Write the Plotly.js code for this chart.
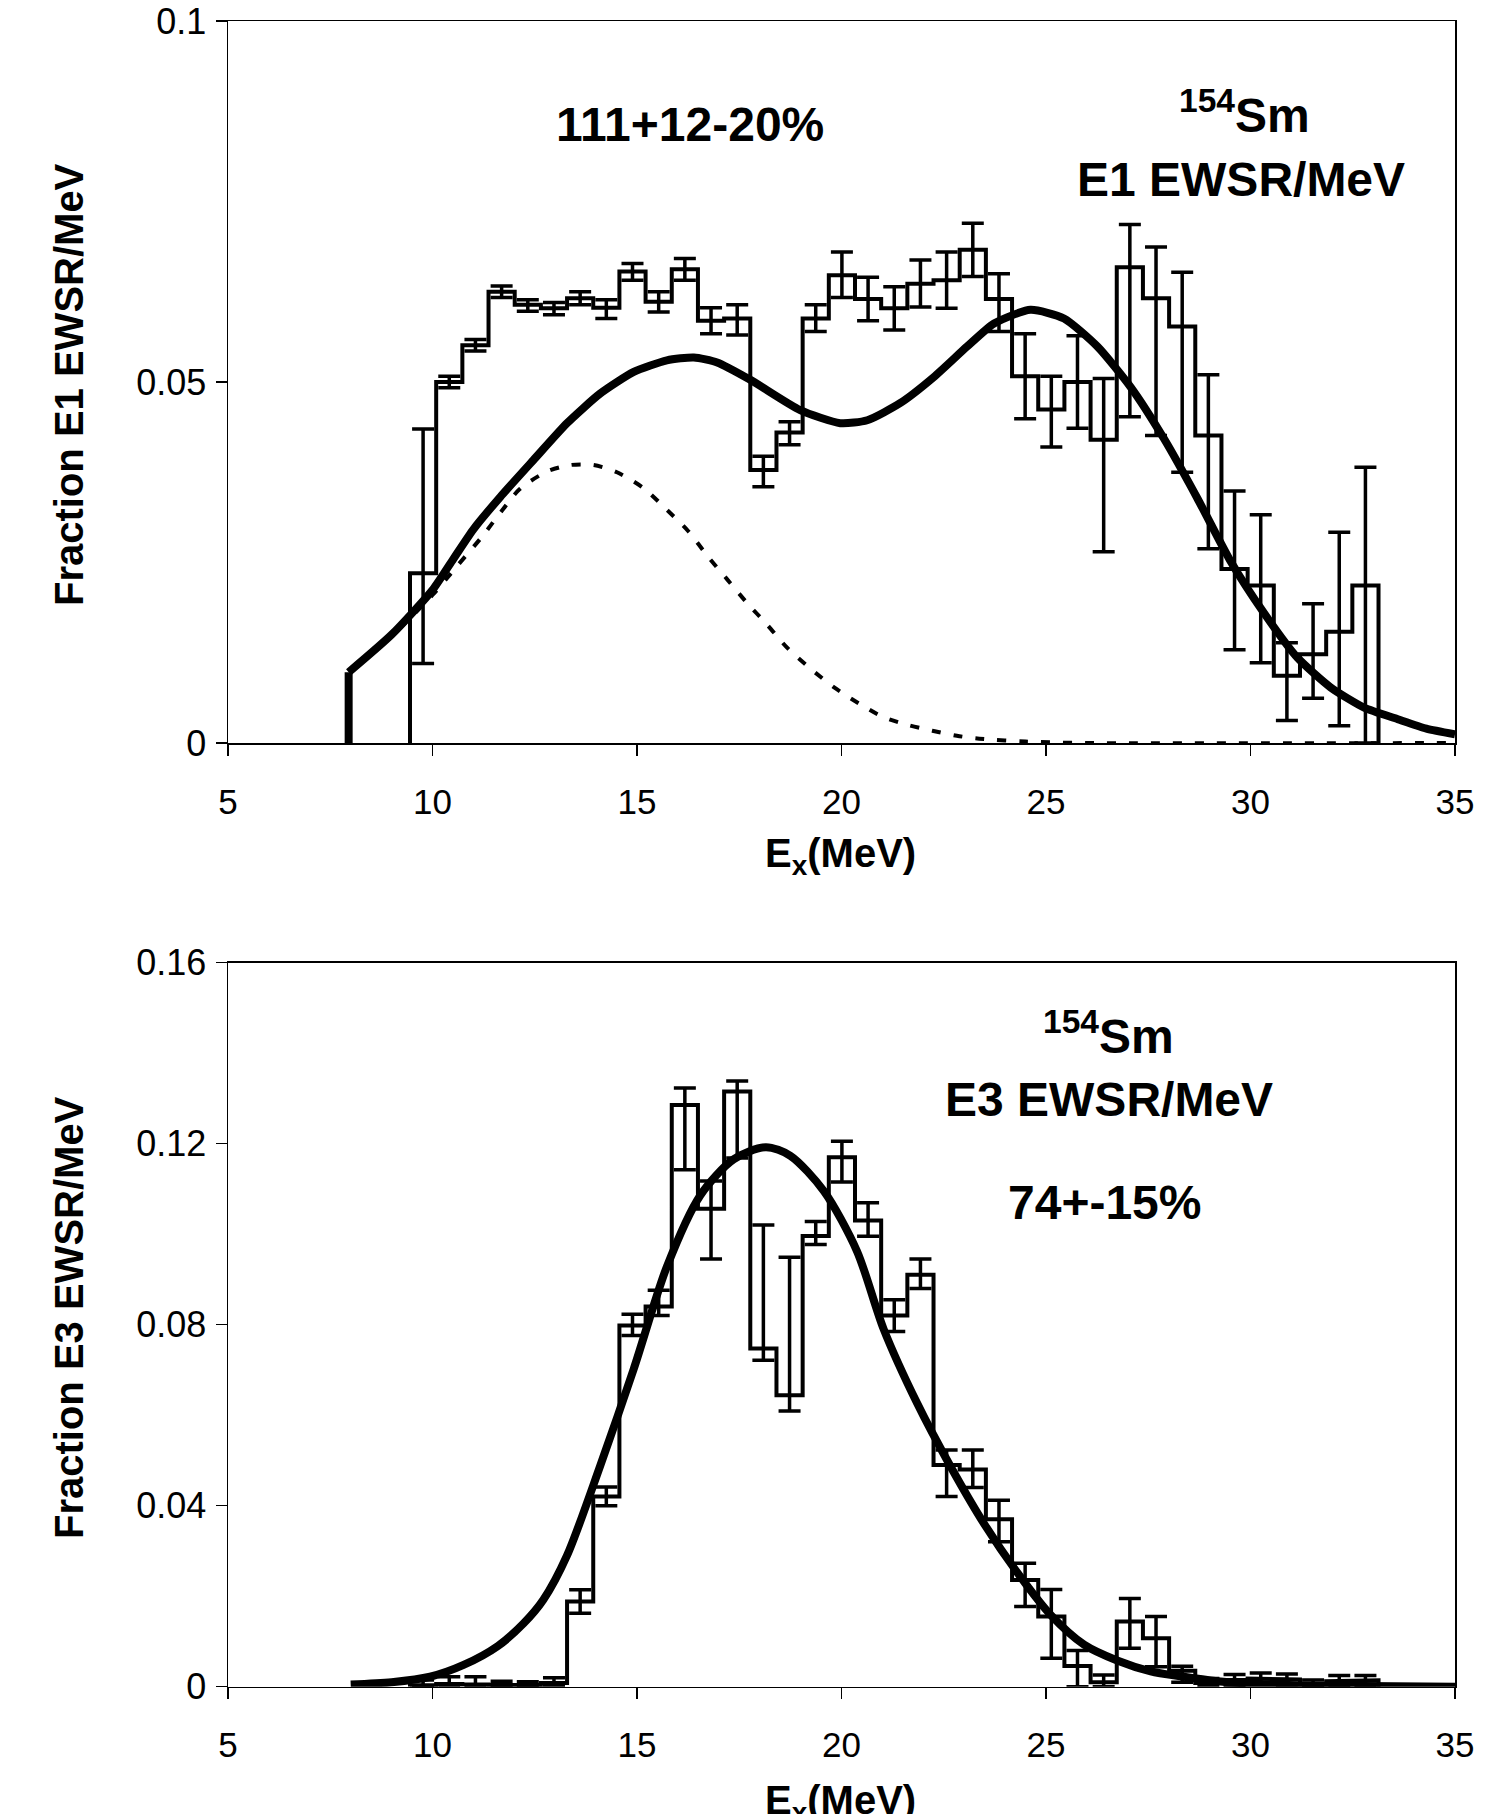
<!DOCTYPE html>
<html><head><meta charset="utf-8">
<script src="https://cdn.plot.ly/plotly-3.0.1.min.js"></script>
<style>html,body{margin:0;padding:0;background:#fff}#chart{width:1512px;height:1814px}</style>
</head><body><div id="chart"></div>
<script>
// ---------- data ----------
const binCenters = [9.77, 10.41, 11.05, 11.69, 12.33, 12.97, 13.61, 14.25, 14.89, 15.53, 16.17, 16.81, 17.45, 18.09, 18.73, 19.37, 20.01, 20.65, 21.29, 21.93, 22.57, 23.21, 23.85, 24.49, 25.13, 25.77, 26.41, 27.05, 27.69, 28.33, 28.97, 29.61, 30.25, 30.89, 31.53, 32.17, 32.81];
const binWidth = 0.64;

const e1Value = [0.0235, 0.0500, 0.0551, 0.0625, 0.0607, 0.0602, 0.0616, 0.0603, 0.0653, 0.0611, 0.0656, 0.0585, 0.0588, 0.0378, 0.0430, 0.0588, 0.0648, 0.0615, 0.0602, 0.0636, 0.0641, 0.0683, 0.0615, 0.0508, 0.0462, 0.0500, 0.0420, 0.0659, 0.0616, 0.0577, 0.0426, 0.0241, 0.0218, 0.0093, 0.0123, 0.0154, 0.0218];
const e1High  = [0.0435, 0.0508, 0.0559, 0.0633, 0.0614, 0.0610, 0.0625, 0.0614, 0.0664, 0.0625, 0.0671, 0.0603, 0.0607, 0.0397, 0.0445, 0.0607, 0.0680, 0.0645, 0.0632, 0.0669, 0.0680, 0.0720, 0.0650, 0.0567, 0.0508, 0.0564, 0.0505, 0.0718, 0.0687, 0.0652, 0.0510, 0.0349, 0.0316, 0.0139, 0.0193, 0.0292, 0.0382];
const e1Low   = [0.0110, 0.0492, 0.0543, 0.0617, 0.0598, 0.0593, 0.0607, 0.0588, 0.0641, 0.0597, 0.0641, 0.0567, 0.0565, 0.0355, 0.0413, 0.0570, 0.0617, 0.0585, 0.0572, 0.0604, 0.0602, 0.0646, 0.0570, 0.0449, 0.0410, 0.0436, 0.0265, 0.0452, 0.0426, 0.0375, 0.0269, 0.0129, 0.0111, 0.0031, 0.0062, 0.0024, 0.0000];

// total E1 fit curve (first two points: the vertical onset at 7.95 MeV)
const e1CurveE = [7.95, 7.95, 9.0, 10.0, 10.51, 11.0, 11.66, 12.47, 13.29, 14.10, 14.92, 15.73, 16.39, 16.96, 17.77, 18.99, 19.97, 20.63, 21.44, 22.26, 23.07, 23.73, 24.62, 25.44, 26.26, 27.07, 27.89, 28.70, 29.52, 30.33, 31.15, 31.96, 32.78, 33.60, 34.3, 35.0];
const e1CurveV = [0.0, 0.0098, 0.0150, 0.0212, 0.0255, 0.0296, 0.0341, 0.0392, 0.0443, 0.0484, 0.0514, 0.0530, 0.0534, 0.0527, 0.0503, 0.0461, 0.0443, 0.0447, 0.0471, 0.0507, 0.0549, 0.0581, 0.0600, 0.0588, 0.0549, 0.0493, 0.0421, 0.0339, 0.0251, 0.0180, 0.0118, 0.0077, 0.0049, 0.0033, 0.0020, 0.0012];

// lower E1 component (dashed)
const e1LowCompE = [8.0, 9.0, 10.0, 10.6, 11.2, 11.7, 12.14, 12.80, 13.37, 13.94, 14.51, 15.16, 15.73, 16.26, 16.75, 17.20, 17.69, 18.18, 18.67, 19.22, 19.82, 20.42, 21.02, 21.62, 22.22, 22.82, 23.37, 24.5, 26.0, 35.0];
const e1LowCompV = [0.0098, 0.0148, 0.0205, 0.0245, 0.0285, 0.0322, 0.0352, 0.0376, 0.0385, 0.0385, 0.0375, 0.0353, 0.0323, 0.0293, 0.0257, 0.0227, 0.0194, 0.0164, 0.0132, 0.0104, 0.0077, 0.0055, 0.0036, 0.0025, 0.0017, 0.0010, 0.0006, 0.0002, 0.0, 0.0];

const e3Value = [0.0003, 0.0006, 0.0005, 0.0004, 0.0004, 0.0008, 0.0188, 0.0420, 0.0798, 0.0840, 0.1285, 0.1056, 0.1315, 0.0747, 0.0644, 0.0996, 0.1170, 0.1030, 0.0820, 0.0910, 0.0490, 0.0480, 0.0370, 0.0236, 0.0155, 0.0046, 0.0010, 0.0144, 0.0107, 0.0035, 0.0008, 0.0015, 0.0018, 0.0016, 0.0005, 0.0012, 0.0014];
const e3High  = [0.0015, 0.0022, 0.0022, 0.0012, 0.0011, 0.0020, 0.0214, 0.0441, 0.0823, 0.0876, 0.1323, 0.1117, 0.1338, 0.1020, 0.0949, 0.1028, 0.1205, 0.1069, 0.0855, 0.0945, 0.0523, 0.0523, 0.0412, 0.0273, 0.0215, 0.0080, 0.0026, 0.0195, 0.0155, 0.0045, 0.0018, 0.0027, 0.0030, 0.0028, 0.0015, 0.0025, 0.0025];
const e3Low   = [0.0, 0.0, 0.0, 0.0, 0.0, 0.0, 0.0162, 0.0400, 0.0776, 0.0820, 0.1142, 0.0945, 0.1168, 0.0721, 0.0609, 0.0977, 0.1115, 0.0995, 0.0785, 0.0880, 0.0420, 0.0440, 0.0320, 0.0177, 0.0063, 0.0, 0.0, 0.0085, 0.0044, 0.0010, 0.0, 0.0003, 0.0006, 0.0004, 0.0, 0.0, 0.0003];

const e3CurveE = [8.0, 9.0, 9.94, 10.76, 11.6, 12.23, 12.71, 13.29, 14.10, 14.92, 15.73, 16.55, 17.36, 18.15, 18.75, 19.57, 20.38, 21.03, 21.85, 22.67, 23.48, 24.30, 25.11, 25.93, 26.74, 27.56, 28.29, 29.2, 30.2, 32.0, 35.0];
const e3CurveV = [0.0005, 0.0010, 0.0022, 0.0048, 0.0090, 0.0140, 0.0192, 0.0290, 0.0488, 0.0702, 0.0928, 0.1086, 0.1165, 0.1192, 0.1173, 0.1095, 0.0962, 0.0790, 0.0626, 0.0486, 0.0361, 0.0252, 0.0159, 0.0093, 0.0058, 0.0034, 0.0023, 0.0012, 0.0006, 0.0002, 0.0];

const xTickVals = [5, 10, 15, 20, 25, 30, 35];
const e1TickVals = [0, 0.05, 0.1];
const e1TickText = ['0', '0.05', '0.1'];
const e3TickVals = [0, 0.04, 0.08, 0.12, 0.16];
const e3TickText = ['0', '0.04', '0.08', '0.12', '0.16'];

// ---------- helpers ----------
function stepOutline(centers, values, w) {
  const xs = [centers[0] - w / 2], ys = [0];
  centers.forEach((c, i) => { xs.push(c - w / 2, c + w / 2); ys.push(values[i], values[i]); });
  xs.push(centers[centers.length - 1] + w / 2); ys.push(0);
  return { xs, ys };
}
const FONT = 'Liberation Sans, Arial, Helvetica, sans-serif';
function histTraces(vals, hi, lo, xa, ya) {
  const o = stepOutline(binCenters, vals, binWidth);
  return [
    { x: o.xs, y: o.ys, xaxis: xa, yaxis: ya, mode: 'lines', line: { color: '#000', width: 4 }, hoverinfo: 'skip' },
    { x: binCenters, y: vals, xaxis: xa, yaxis: ya, mode: 'markers', marker: { size: 1, color: 'rgba(0,0,0,0)' },
      error_y: { type: 'data', symmetric: false, array: hi.map((h, i) => h - vals[i]), arrayminus: lo.map((l, i) => vals[i] - l),
                 color: '#000', thickness: 3.5, width: 11 } }
  ];
}

const traces = [
  ...histTraces(e1Value, e1High, e1Low, 'x', 'y'),
  { x: e1LowCompE, y: e1LowCompV, xaxis: 'x', yaxis: 'y', mode: 'lines', line: { color: '#000', width: 4, dash: '9px,13px', shape: 'spline', smoothing: 0.8 } },
  { x: e1CurveE.slice(0, 2), y: e1CurveV.slice(0, 2), xaxis: 'x', yaxis: 'y', mode: 'lines', line: { color: '#000', width: 8 } },
  { x: e1CurveE.slice(1), y: e1CurveV.slice(1), xaxis: 'x', yaxis: 'y', mode: 'lines', line: { color: '#000', width: 8, shape: 'spline', smoothing: 0.6 } },
  ...histTraces(e3Value, e3High, e3Low, 'x2', 'y2'),
  { x: e3CurveE, y: e3CurveV, xaxis: 'x2', yaxis: 'y2', mode: 'lines', line: { color: '#000', width: 8, shape: 'spline', smoothing: 0.8 } }
];

const W = 1512, H = 1814;
const px = v => v / W, py = v => 1 - v / H;
const xDom = [px(228), px(1455)];

function xAxis(anchor) {
  return { domain: xDom, range: [5, 35], anchor, tickvals: xTickVals, ticks: 'outside', ticklen: 11, tickwidth: 1.5, tickcolor: '#000',
    showline: true, linecolor: '#000', linewidth: 1.5, mirror: true, showgrid: false, zeroline: false,
    tickfont: { family: FONT, size: 35, color: '#000' }, ticklabelstandoff: 16 };
}
function yAxis(anchor, dom, range, tv, tt) {
  return { domain: dom, range, anchor, tickvals: tv, ticktext: tt, ticks: 'outside', ticklen: 11, tickwidth: 1.5, tickcolor: '#000',
    showline: true, linecolor: '#000', linewidth: 1.5, mirror: true, showgrid: false, zeroline: false,
    tickfont: { family: FONT, size: 36, color: '#000' }, ticklabelstandoff: 2 };
}
// inner halves of the crossing tick marks
function xInner(over, anchor) {
  return { overlaying: over, anchor, domain: xDom, range: [5, 35], tickvals: xTickVals, ticks: 'inside', ticklen: 6, tickwidth: 1.5,
    tickcolor: '#000', showticklabels: false, showline: false, showgrid: false, zeroline: false };
}
function yInner(over, anchor, range, tv) {
  return { overlaying: over, anchor, range, tickvals: tv, ticks: 'inside', ticklen: 8, tickwidth: 1.5,
    tickcolor: '#000', showticklabels: false, showline: false, showgrid: false, zeroline: false };
}

const bold = s => '<b>' + s + '</b>';
const annFont = { family: FONT, size: 48, color: '#000' };
const titleFont = { family: FONT, size: 40, color: '#000' };
const paperAnn = (x, y, text, angle) => ({ xref: 'paper', yref: 'paper', x: px(x), y: py(y), xanchor: 'center', yanchor: 'middle',
  text: bold(text), textangle: angle || 0, showarrow: false, font: titleFont });

const layout = {
  width: W, height: H, margin: { l: 0, r: 0, t: 0, b: 0 }, showlegend: false,
  paper_bgcolor: '#fff', plot_bgcolor: '#fff',
  xaxis: xAxis('y'),
  yaxis: yAxis('x', [py(743), py(21)], [0, 0.1], e1TickVals, e1TickText),
  xaxis2: xAxis('y2'),
  yaxis2: yAxis('x2', [py(1686.7), py(962.5)], [0, 0.16], e3TickVals, e3TickText),
  xaxis3: xInner('x', 'y'),
  yaxis3: yInner('y', 'x', [0, 0.1], e1TickVals),
  xaxis4: xInner('x2', 'y2'),
  yaxis4: yInner('y2', 'x2', [0, 0.16], e3TickVals),
  annotations: [
    { xref: 'x', yref: 'y', x: 16.29, y: 0.0857, text: bold('111+12-20%'), showarrow: false, font: annFont },
    { xref: 'x', yref: 'y', x: 29.85, y: 0.0874, text: bold('<sup>154</sup>Sm'), showarrow: false, font: annFont },
    { xref: 'x', yref: 'y', x: 29.76, y: 0.0781, text: bold('E1 EWSR/MeV'), showarrow: false, font: annFont },
    { xref: 'x2', yref: 'y2', x: 26.53, y: 0.1444, text: bold('<sup>154</sup>Sm'), showarrow: false, font: annFont },
    { xref: 'x2', yref: 'y2', x: 26.53, y: 0.1298, text: bold('E3 EWSR/MeV'), showarrow: false, font: annFont },
    { xref: 'x2', yref: 'y2', x: 26.42, y: 0.1069, text: bold('74+-15%'), showarrow: false, font: annFont },
    paperAnn(841, 856, 'E<sub>x</sub>(MeV)'),
    paperAnn(841, 1803, 'E<sub>x</sub>(MeV)'),
    paperAnn(69, 385, 'Fraction E1 EWSR/MeV', -90),
    paperAnn(69, 1318, 'Fraction E3 EWSR/MeV', -90)
  ]
};

Plotly.newPlot('chart', traces, layout, { displayModeBar: false, staticPlot: true });
</script>
</body></html>
